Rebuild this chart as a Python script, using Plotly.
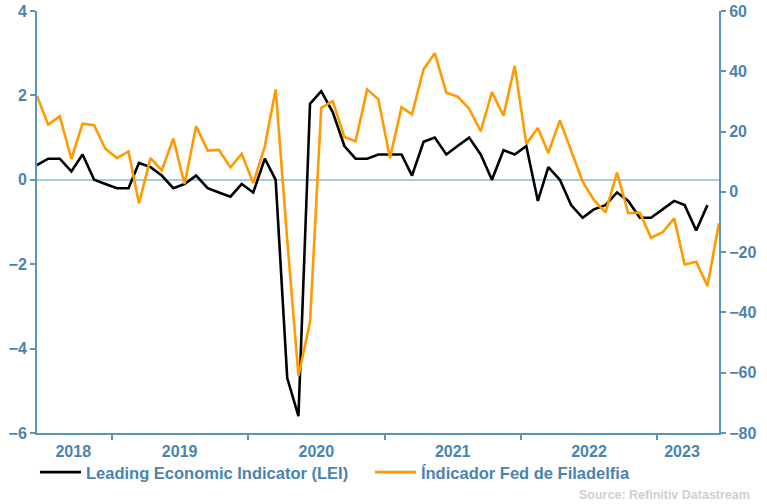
import plotly.graph_objects as go
import pandas as pd

# Monthly data, May 2018 onwards
lei_dates = pd.date_range("2018-05-15", periods=60, freq="MS") + pd.Timedelta(days=14)
fed_dates = pd.date_range("2018-05-15", periods=61, freq="MS") + pd.Timedelta(days=14)

lei_values = [0.35, 0.5, 0.5, 0.2, 0.6, 0.0, -0.1, -0.2, -0.2, 0.4,
              0.3, 0.1, -0.2, -0.1, 0.1, -0.2, -0.3, -0.4, -0.1, -0.3,
              0.5, 0.0, -4.7, -5.6, 1.8, 2.1, 1.6, 0.8, 0.5, 0.5,
              0.6, 0.6, 0.6, 0.1, 0.9, 1.0, 0.6, 0.8, 1.0, 0.6,
              0.0, 0.7, 0.6, 0.8, -0.5, 0.3, 0.0, -0.6, -0.9, -0.7,
              -0.6, -0.3, -0.5, -0.9, -0.9, -0.7, -0.5, -0.6, -1.2, -0.6]

fed_values = [31.8, 22.3, 25.1, 10.9, 22.6, 22.1, 14.3, 11.2, 13.4, -3.8,
              11.2, 7.1, 17.7, 2.6, 21.8, 13.7, 13.9, 8.1, 12.6, 2.9,
              15.1, 34.0, -16.0, -61.0, -43.2, 27.9, 30.1, 18.2, 16.8, 34.0,
              30.7, 11.2, 28.1, 25.7, 40.7, 46.0, 32.9, 31.6, 27.6, 20.1,
              33.1, 25.3, 41.8, 16.0, 21.2, 12.9, 23.7, 13.9, 3.4, -2.7,
              -6.8, 6.4, -7.1, -6.9, -15.2, -13.4, -8.8, -24.1, -23.2, -31.2,
              -10.4]

year_labels = ["2018", "2019", "2020", "2021", "2022", "2023"]
year_label_pos = ["2018-09-20", "2019-07-02", "2020-07-02", "2021-07-02", "2022-07-02", "2023-03-08"]
year_bounds = ["2019-01-01", "2020-01-01", "2021-01-01", "2022-01-01", "2023-01-01"]

AXIS = "#5B93BA"
TXT = "#4A84AE"
FONT = "Liberation Sans"
W, H = 767, 504
L, R, T, B = 37, 48, 11, 71
PW, PH = W - L - R, H - T - B

fig = go.Figure()
fig.add_trace(go.Scatter(x=lei_dates, y=lei_values, mode="lines",
                         name="Leading Economic Indicator (LEI)",
                         line=dict(color="#000000", width=2.6)))
fig.add_trace(go.Scatter(x=fed_dates, y=fed_values, mode="lines", yaxis="y2",
                         name="Índicador Fed de Filadelfia",
                         line=dict(color="#FF9A00", width=2.6)))

fig.update_layout(
    width=W, height=H,
    margin=dict(l=L, r=R, t=T, b=B, autoexpand=False),
    plot_bgcolor="white", paper_bgcolor="white",
    font=dict(family=FONT, color=TXT, size=16, weight="bold"),
    xaxis=dict(type="date", range=[fed_dates[0], fed_dates[-1]],
               tickvals=year_label_pos, ticktext=year_labels, ticks="",
               ticklabelstandoff=3,
               showgrid=False, zeroline=False, showline=True, automargin=False,
               linecolor=AXIS, linewidth=2,
               tickfont=dict(size=16, color=TXT, family=FONT, weight="bold"),
               minor=dict(tickvals=year_bounds, ticks="outside", ticklen=5,
                          tickwidth=2, tickcolor=AXIS, showgrid=False)),
    yaxis=dict(range=[-6, 4], dtick=2, ticks="outside", ticklen=5, tickwidth=2,
               tickcolor=AXIS, showline=True, linecolor=AXIS, linewidth=2,
               showgrid=False, zeroline=True, zerolinecolor="#A8CBDC", zerolinewidth=1.5,
               automargin=False, ticklabeloverflow="allow",
               tickfont=dict(size=16, color=TXT, family=FONT, weight="bold")),
    yaxis2=dict(range=[-80, 60], dtick=20, overlaying="y", side="right",
                ticks="outside", ticklen=5, tickwidth=2, tickcolor=AXIS,
                showline=True, linecolor=AXIS, linewidth=2, automargin=False,
                ticklabeloverflow="allow",
                showgrid=False, zeroline=False,
                tickfont=dict(size=16, color=TXT, family=FONT, weight="bold")),
    legend=dict(orientation="h", x=-0.003, xanchor="left", y=-0.052, yanchor="top",
                font=dict(size=16.5, color=TXT, family=FONT, weight="bold"),
                bgcolor="rgba(0,0,0,0)", itemwidth=41, entrywidth=279),
    showlegend=True,
)

fig.add_annotation(text="Source: Refinitiv Datastream", xref="paper", yref="paper",
                   x=(752 - L) / PW, xanchor="right",
                   y=-(495 - (H - B)) / PH, yanchor="middle", showarrow=False,
                   font=dict(size=12.5, color="#D0D0D0", family=FONT, weight="bold"))

fig.write_html("out.html", config={"displayModeBar": False},
               post_script="document.body.style.margin='0px';document.body.style.overflow='hidden';")
